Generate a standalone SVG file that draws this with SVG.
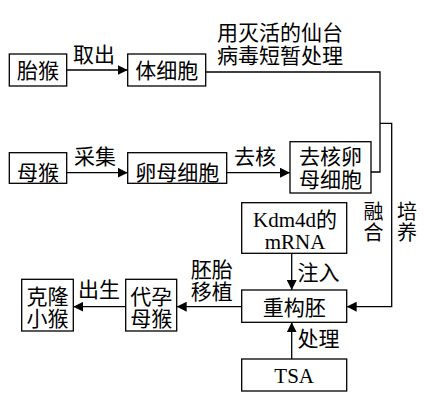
<svg xmlns="http://www.w3.org/2000/svg" width="429" height="402" viewBox="0 0 429 402">
<defs>
<style>
.box{fill:#fff;stroke:#000;stroke-width:1.3}
.ln{fill:none;stroke:#000;stroke-width:1.3}
text{font-family:"Liberation Serif","Noto Sans CJK SC",serif;font-size:21px;fill:#000;text-anchor:middle}
.v{font-size:20px}
</style>
<marker id="ah" viewBox="0 0 10 10" refX="10" refY="5" markerWidth="10" markerHeight="10" markerUnits="userSpaceOnUse" orient="auto">
<path d="M0,0 L10,5 L0,10 Z" fill="#000"/>
</marker>
</defs>
<rect width="429" height="402" fill="#fff"/>
<g id="connectors">
<line class="ln" x1="66.7" y1="70" x2="127.7" y2="70" marker-end="url(#ah)"/>
<text x="94" y="62">取出</text>
<polyline class="ln" points="205.7,72 380,72 380,172 371,172"/>
<text x="280" y="40">用灭活的仙台</text>
<text x="280" y="63">病毒短暂处理</text>
<line class="ln" x1="66.7" y1="172.7" x2="127.7" y2="172.7" marker-end="url(#ah)"/>
<text x="95" y="164">采集</text>
<line class="ln" x1="226.7" y1="172.7" x2="290" y2="172.7" marker-end="url(#ah)"/>
<text x="255" y="164">去核</text>
<polyline class="ln" points="380,123.3 391.7,123.3 391.7,306.7 346.7,306.7" marker-end="url(#ah)"/>
<text class="v" x="373.5" y="218.5">融</text>
<text class="v" x="373.5" y="240">合</text>
<text class="v" x="407" y="218.5">培</text>
<text class="v" x="407" y="240">养</text>
<line class="ln" x1="291.7" y1="253.3" x2="291.7" y2="290" marker-end="url(#ah)"/>
<text x="318.5" y="280">注入</text>
<line class="ln" x1="291.7" y1="359" x2="291.7" y2="322.3" marker-end="url(#ah)"/>
<text x="318.5" y="346">处理</text>
<line class="ln" x1="241.7" y1="306.7" x2="176.7" y2="306.7" marker-end="url(#ah)"/>
<text x="211.7" y="277">胚胎</text>
<text x="211.7" y="299">移植</text>
<line class="ln" x1="125.7" y1="306.7" x2="73.3" y2="306.7" marker-end="url(#ah)"/>
<text x="99" y="297">出生</text>
</g>
<g id="n1"><rect class="box" x="9.3" y="54" width="57.4" height="32"/><text x="38" y="78">胎猴</text></g>
<g id="n2"><rect class="box" x="127.7" y="54" width="78" height="32"/><text x="166.7" y="78">体细胞</text></g>
<g id="n3"><rect class="box" x="9.3" y="152.7" width="57.4" height="30.6"/><text x="38" y="180">母猴</text></g>
<g id="n4"><rect class="box" x="127.7" y="152.7" width="99" height="30.6"/><text x="177.2" y="180">卵母细胞</text></g>
<g id="n5"><rect class="box" x="290" y="141.7" width="81" height="51.3"/><text x="330.5" y="164">去核卵</text><text x="330.5" y="187">母细胞</text></g>
<g id="n6"><rect class="box" x="241.7" y="202.7" width="105" height="50.6"/><text x="295" y="227">Kdm4d的</text><text x="295" y="249">mRNA</text></g>
<g id="n7"><rect class="box" x="241.7" y="290" width="105" height="32.3"/><text x="294.2" y="315">重构胚</text></g>
<g id="n8"><rect class="box" x="241.7" y="359" width="105" height="32"/><text x="294.2" y="383">TSA</text></g>
<g id="n9"><rect class="box" x="125.7" y="279.3" width="51" height="51.7"/><text x="151.2" y="304">代孕</text><text x="151.2" y="326">母猴</text></g>
<g id="n10"><rect class="box" x="21.7" y="279.3" width="51.6" height="51.7"/><text x="47.5" y="304">克隆</text><text x="47.5" y="326">小猴</text></g>
</svg>
